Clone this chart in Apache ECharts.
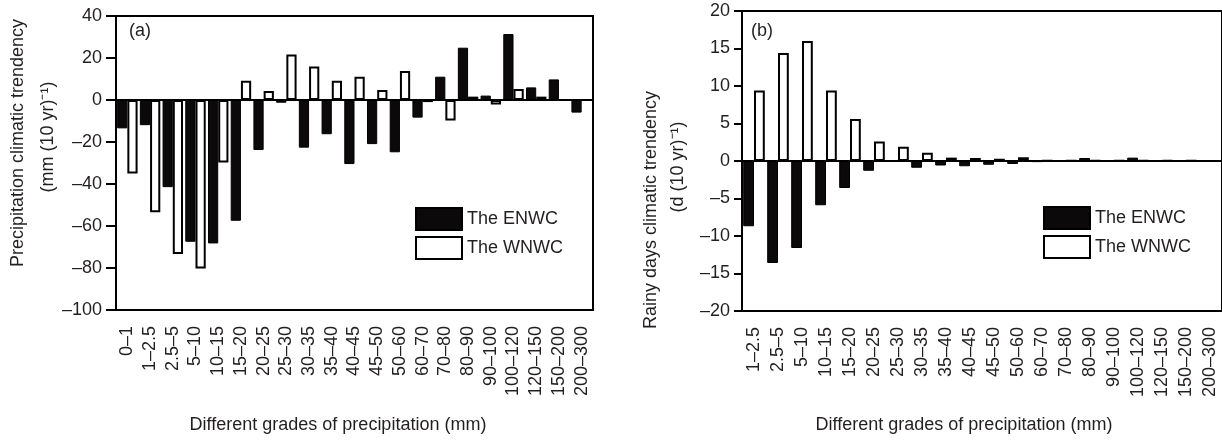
<!DOCTYPE html>
<html>
<head>
<meta charset="utf-8">
<script src="https://cdn.jsdelivr.net/npm/echarts@6/dist/echarts.min.js"></script>
<style>
  html, body { margin: 0; padding: 0; background: #fff; }
  #chart { width: 1222px; height: 441px; }
</style>
</head>
<body>
<div id="chart"></div>
<script>
// Precipitation grades (mm)
const gradesA = ['0–1', '1–2.5', '2.5–5', '5–10', '10–15', '15–20', '20–25', '25–30', '30–35', '35–40',
  '40–45', '45–50', '50–60', '60–70', '70–80', '80–90', '90–100', '100–120', '120–150', '150–200', '200–300'];
const gradesB = ['1–2.5', '2.5–5', '5–10', '10–15', '15–20', '20–25', '25–30', '30–35', '35–40',
  '40–45', '45–50', '50–60', '60–70', '70–80', '80–90', '90–100', '100–120', '120–150', '150–200', '200–300'];

// (a) precipitation climatic trend, mm (10 yr)^-1
const precipENWC = [-13.5, -12, -41.5, -67.5, -68.3, -57.5, -23.8, -1.3, -22.7, -16.3,
  -30.5, -21, -24.9, -8.4, 11.1, 24.9, 2.1, 31.4, 6.0, 9.8, -6.0];
const precipWNWC = [-35, -53.5, -73.3, -80.2, -29.8, 9.2, 4.3, 21.7, 15.9, 9.2,
  11.1, 4.8, 13.8, -1, -9.8, 1.6, -2.1, 5.2, 1.6, 0, 0];

// (b) rainy days climatic trend, d (10 yr)^-1
const daysENWC = [-8.7, -13.6, -11.6, -5.9, -3.6, -1.3, 0, -0.9, -0.6, -0.7,
  -0.5, -0.4, -0.15, -0.1, 0.4, 0.1, 0.45, 0.1, 0.1, 0];
const daysWNWC = [9.4, 14.4, 16.0, 9.4, 5.6, 2.6, 1.9, 1.1, 0.45, 0.4,
  0.3, 0.5, 0.05, 0.05, 0.1, 0.05, 0.1, 0.1, 0.05, 0];

// Axis ranges and tick steps
const ticksA = { min: -100, max: 40, interval: 20 };
const ticksB = { min: -20, max: 20, interval: 5 };

const FONT = 'Liberation Sans, Arial, sans-serif';
const INK = '#231f20';

const dashMinus = v => (v < 0 ? '–' + Math.abs(v) : String(v));

function xAxisFor(gridIndex, data) {
  return {
    gridIndex, type: 'category', data,
    axisLine: { onZero: false, lineStyle: { color: '#000', width: 2 } },
    axisTick: { alignWithLabel: true, length: 6, lineStyle: { color: '#000', width: 2 } },
    axisLabel: { rotate: 90, interval: 0, margin: 16, fontSize: 18, color: INK, fontFamily: FONT },
    splitLine: { show: false }
  };
}
function yAxisFor(gridIndex, t, tickLen, margin) {
  return {
    gridIndex, type: 'value', min: t.min, max: t.max, interval: t.interval,
    axisLine: { show: true, lineStyle: { color: '#000', width: 2 } },
    axisTick: { show: true, length: tickLen, lineStyle: { color: '#000', width: 2 } },
    axisLabel: { formatter: dashMinus, margin, fontSize: 18, color: INK, fontFamily: FONT },
    splitLine: { show: false }
  };
}
const zeroLine = {
  silent: true, symbol: 'none', animation: false,
  label: { show: false },
  lineStyle: { color: '#000', width: 2, type: 'solid' },
  emphasis: { disabled: true },
  data: [{ yAxis: 0 }]
};
function barPair(idx, dark, light) {
  return [
    {
      name: 'The ENWC', type: 'bar', xAxisIndex: idx, yAxisIndex: idx, data: dark,
      barGap: '0%', barCategoryGap: '10%',
      itemStyle: { color: '#0b0909', borderColor: '#000', borderWidth: 1 },
      markLine: zeroLine
    },
    {
      name: 'The WNWC', type: 'bar', xAxisIndex: idx, yAxisIndex: idx, data: light,
      barGap: '0%', barCategoryGap: '10%',
      itemStyle: { color: '#fff', borderColor: '#000', borderWidth: 2 }
    }
  ];
}
function legendAt(left, top) {
  return {
    orient: 'vertical', left, top, padding: 0, itemGap: 5,
    icon: 'rect', itemWidth: 46, itemHeight: 22, selectedMode: false,
    textStyle: { fontSize: 18, color: INK, fontFamily: FONT },
    data: ['The ENWC', 'The WNWC']
  };
}
function label(text, x, y, rotation) {
  return {
    type: 'text', x, y, rotation: rotation || 0, silent: true,
    style: { text, font: '18px ' + FONT, fill: INK, align: 'center', verticalAlign: 'middle' }
  };
}

const chart = echarts.init(document.getElementById('chart'), null, { renderer: 'canvas' });
chart.setOption({
  animation: false,
  backgroundColor: '#fff',
  grid: [
    { left: 116, top: 16, width: 477, height: 294, show: true, borderColor: '#000', borderWidth: 2, containLabel: false },
    { left: 742, top: 11, width: 482, height: 300, show: true, borderColor: '#000', borderWidth: 2, containLabel: false }
  ],
  xAxis: [xAxisFor(0, gradesA), xAxisFor(1, gradesB)],
  yAxis: [yAxisFor(0, ticksA, 10, 14), yAxisFor(1, ticksB, 8, 12)],
  legend: [legendAt(415, 207), legendAt(1043, 206)],
  series: [...barPair(0, precipENWC, precipWNWC), ...barPair(1, daysENWC, daysWNWC)],
  graphic: [
    label('(a)', 140, 31),
    label('(b)', 762, 31),
    label('Precipitation climatic trendency', 18.5, 143, Math.PI / 2),
    label('(mm (10 yr)⁻¹)', 48.5, 137, Math.PI / 2),
    label('Rainy days climatic trendency', 651.5, 210, Math.PI / 2),
    label('(d (10 yr)⁻¹)', 678.5, 167, Math.PI / 2),
    label('Different grades of precipitation (mm)', 338, 425),
    label('Different grades of precipitation (mm)', 964, 425)
  ]
});
</script>
</body>
</html>
